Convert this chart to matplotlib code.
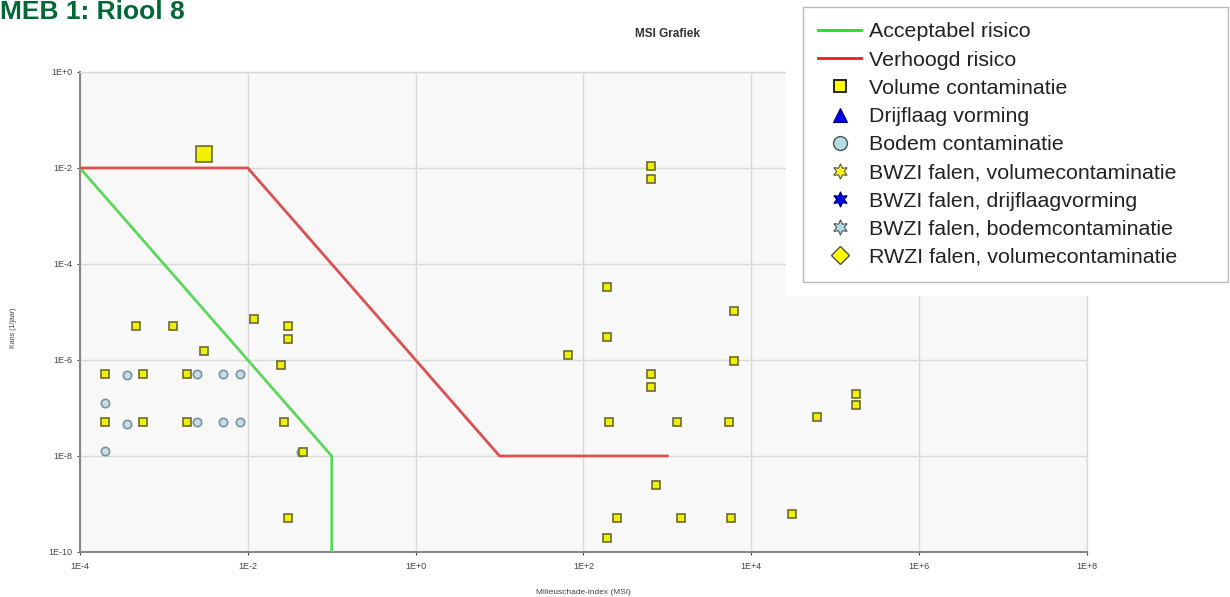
import matplotlib
matplotlib.use("Agg")
import matplotlib.pyplot as plt
from matplotlib.lines import Line2D
from matplotlib.patches import Rectangle

plt.rcParams['font.family'] = ['Liberation Sans', 'DejaVu Sans']

# risk boundaries (MSI, kans)
acceptabel_x = [1e-4, 1e-1, 1e-1]
acceptabel_y = [1e-2, 1e-8, 1e-10]
verhoogd_x = [1e-4, 1e-2, 1e1, 1e3]
verhoogd_y = [1e-2, 1e-2, 1e-8, 1e-8]

# volume contaminatie
volume_x = [4.6e-4, 1.3e-3, 1.18e-2, 3.05e-2, 3.05e-2, 3.0e-3,
            2.0e-4, 5.6e-4, 1.9e-3, 2.5e-2, 2.0e-4, 5.6e-4, 1.9e-3, 2.7e-2,
            4.5e-2, 3.0e-2,
            66, 189, 189, 200, 252, 640, 640, 645, 645, 740, 1290, 1440,
            5370, 5780, 6280, 6280, 30200, 61500, 176000, 176000, 189]
volume_y = [5e-6, 5e-6, 7e-6, 5e-6, 2.7e-6, 1.54e-6,
            5e-7, 5e-7, 5e-7, 7.8e-7, 5e-8, 5e-8, 5e-8, 5e-8,
            1.24e-8, 5e-10,
            1.29e-6, 3.3e-5, 3e-6, 5e-8, 5e-10, 1.12e-2, 6e-3, 5e-7, 2.7e-7,
            2.5e-9, 5e-8, 5e-10,
            5e-8, 5e-10, 1.05e-5, 9.4e-7, 6.1e-10, 6.4e-8, 2e-7, 1.14e-7, 2e-10]
groot_x = [3.0e-3]
groot_y = [2.0e-2]

# bodem contaminatie
bodem_x = [3.6e-4, 2.45e-3, 5.1e-3, 8.1e-3, 2.0e-4, 3.6e-4, 2.45e-3,
           5.1e-3, 8.1e-3, 2.0e-4, 4.3e-2]
bodem_y = [4.8e-7, 5e-7, 5e-7, 5e-7, 1.3e-7, 4.7e-8, 5e-8,
           5e-8, 5e-8, 1.26e-8, 1.24e-8]

x_ticks = [1e-4, 1e-2, 1e0, 1e2, 1e4, 1e6, 1e8]
x_labels = ['1E-4', '1E-2', '1E+0', '1E+2', '1E+4', '1E+6', '1E+8']
y_ticks = [1e0, 1e-2, 1e-4, 1e-6, 1e-8, 1e-10]
y_labels = ['1E+0', '1E-2', '1E-4', '1E-6', '1E-8', '1E-10']

fig = plt.figure(figsize=(12.3, 5.97), dpi=100)
ax = fig.add_axes([0.065, 0.0754, 0.8187, 0.804])
ax.set_facecolor('#f8f8f8')
ax.set_xscale('log')
ax.set_yscale('log')
ax.set_xlim(1e-4, 1e8)
ax.set_ylim(1e-10, 1e0)

ax.set_xticks(x_ticks)
ax.set_xticklabels(x_labels)
ax.set_yticks(y_ticks)
ax.set_yticklabels(y_labels)
ax.minorticks_off()
ax.tick_params(labelsize=6.5, colors='#444444', length=2, width=0.8)
ax.tick_params(axis='x', pad=5)
ax.grid(True, color='#d9d9d9', linewidth=1)
ax.set_axisbelow(True)
for side in ['top', 'right']:
    ax.spines[side].set_color('#d9d9d9')
    ax.spines[side].set_linewidth(1)
for side in ['left', 'bottom']:
    ax.spines[side].set_color('#888888')
    ax.spines[side].set_linewidth(1.5)

ax.plot(acceptabel_x, acceptabel_y, color='#5cd65c', lw=2, zorder=3)
ax.plot(verhoogd_x, verhoogd_y, color='#db5050', lw=2, zorder=3)

sq_kw = dict(marker='s', linestyle='none', markerfacecolor='#f0f000',
             markeredgecolor='#6a6a30', markeredgewidth=1.2, zorder=5)
ax.plot(bodem_x, bodem_y, marker='o', linestyle='none', markersize=6,
        markerfacecolor='#c5dfe6', markeredgecolor='#7a929c',
        markeredgewidth=1.2, zorder=4)
ax.plot(volume_x, volume_y, markersize=6, **sq_kw)
ax.plot(groot_x, groot_y, markersize=11, **sq_kw)

ax.set_xlabel('Milieuschade-index (MSI)', fontsize=6, color='#444444')
ax.xaxis.set_label_coords(0.5, -0.077)
ax.set_ylabel('Kans (1/jaar)', fontsize=5, color='#444444')
ax.yaxis.set_label_coords(-0.063, 0.467)

fig.text(0.543, 0.943, 'MSI Grafiek', fontsize=8.5, fontweight='bold',
         color='#333333', ha='center', va='center')
fig.text(0.0, 1.0, 'MEB 1: Riool 8', fontsize=19, fontweight='bold',
         color='#006837', ha='left', va='top')

# white backing behind the legend box
fig.patches.append(Rectangle((786 / 1230, 1 - 296 / 597), 1 - 786 / 1230, 296 / 597,
                             transform=fig.transFigure, facecolor='white',
                             edgecolor='none', zorder=2))

handles = [
    Line2D([], [], color='#22dd22', lw=2),
    Line2D([], [], color='#ee1c1c', lw=2),
    Line2D([], [], marker='s', linestyle='none', markersize=9,
           markerfacecolor='#ffff00', markeredgecolor='black', markeredgewidth=1.2),
    Line2D([], [], marker='^', linestyle='none', markersize=10,
           markerfacecolor='#0000ee', markeredgecolor='#000080', markeredgewidth=0.8),
    Line2D([], [], marker='o', linestyle='none', markersize=10,
           markerfacecolor='#b0dde6', markeredgecolor='#505050', markeredgewidth=1),
    Line2D([], [], marker=(6, 1, 0), linestyle='none', markersize=11,
           markerfacecolor='#ffff00', markeredgecolor='#505050', markeredgewidth=0.8),
    Line2D([], [], marker=(6, 1, 0), linestyle='none', markersize=11,
           markerfacecolor='#0000ee', markeredgecolor='#000060', markeredgewidth=0.8),
    Line2D([], [], marker=(6, 1, 0), linestyle='none', markersize=11,
           markerfacecolor='#b0dde6', markeredgecolor='#505050', markeredgewidth=0.8),
    Line2D([], [], marker='D', linestyle='none', markersize=9,
           markerfacecolor='#ffff00', markeredgecolor='#505050', markeredgewidth=1),
]
labels = ['Acceptabel risico', 'Verhoogd risico', 'Volume contaminatie',
          'Drijflaag vorming', 'Bodem contaminatie',
          'BWZI falen, volumecontaminatie', 'BWZI falen, drijflaagvorming',
          'BWZI falen, bodemcontaminatie', 'RWZI falen, volumecontaminatie']
leg = fig.legend(handles, labels, loc='upper left',
                 bbox_to_anchor=(803 / 1230, 1 - 282 / 597, 425 / 1230, 275 / 597),
                 mode='expand', borderaxespad=0,
                 fontsize=15.4, frameon=True, fancybox=False, framealpha=1,
                 edgecolor='#bbbbbb', handlelength=2.0, handletextpad=0.38,
                 labelspacing=0.43, borderpad=0.72)
leg.get_frame().set_linewidth(1)
leg.set_zorder(6)
for t in leg.get_texts():
    t.set_color('#222222')

fig.savefig('out.png', dpi=100)
